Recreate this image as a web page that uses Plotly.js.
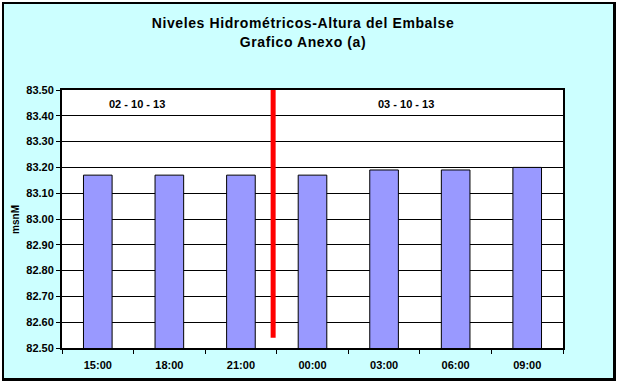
<!DOCTYPE html>
<html>
<head>
<meta charset="utf-8">
<script src="https://cdn.plot.ly/plotly-3.0.1.min.js"></script>
<style>
  html, body { margin: 0; padding: 0; background: #ffffff; }
  #frame {
    position: absolute; left: 2px; top: 2px;
    width: 609px; height: 374px;
    border-left: 2px solid #000; border-top: 2px solid #000;
    border-right: 3px solid #000; border-bottom: 3px solid #000;
    background: #CCFFFF;
  }
  #chart { width: 609px; height: 374px; }
  #chart .gtitle { letter-spacing: 0.6px; }
</style>
</head>
<body>
<div id="frame"><div id="chart"></div></div>
<script>
// ---- data ----
const categories = ["15:00", "18:00", "21:00", "00:00", "03:00", "06:00", "09:00"];
const levels = [83.17, 83.17, 83.17, 83.17, 83.19, 83.19, 83.20];
const yTickVals = [82.5, 82.6, 82.7, 82.8, 82.9, 83.0, 83.1, 83.2, 83.3, 83.4, 83.5];
const yTickText = ["82.50", "82.60", "82.70", "82.80", "82.90", "83.00", "83.10", "83.20", "83.30", "83.40", "83.50"];
const dateLabels = ["02 - 10 - 13", "03 - 10 - 13"];
const dateLabelX = [0.55, 4.31];
const dateLabelY = 83.445;
const dividerX = 2.45;
const dividerY = [82.54, 83.5];

const FONT = "Arial, 'Liberation Sans', sans-serif";

const traces = [{
  type: "bar",
  x: categories,
  y: levels,
  width: 0.4,
  marker: { color: "#9999FF", line: { color: "#000000", width: 1 } },
  hoverinfo: "x+y"
}];

const layout = {
  width: 609, height: 374,
  margin: { l: 58, r: 50, t: 86, b: 30, pad: 0 },
  paper_bgcolor: "#CCFFFF",
  plot_bgcolor: "#FFFFFF",
  showlegend: false,
  font: { family: FONT, color: "#000000" },
  title: {
    text: "<b>Niveles Hidrométricos-Altura del Embalse<br>Grafico Anexo (a)</b>",
    font: { family: FONT, size: 14, color: "#000000" },
    x: 0.491, xref: "container", xanchor: "center",
    y: 0.935, yref: "container", yanchor: "top"
  },
  xaxis: {
    type: "category",
    range: [-0.5, 6.5],
    tickson: "boundaries",
    ticks: "outside", ticklen: 4, tickwidth: 1, tickcolor: "#000",
    ticklabelstandoff: 6,
    showline: true, linecolor: "#000", linewidth: 2, mirror: true,
    showgrid: false,
    tickfont: { family: FONT, size: 11, color: "#000", weight: "bold" },
    fixedrange: true
  },
  yaxis: {
    range: [82.5, 83.5],
    tickvals: yTickVals, ticktext: yTickText,
    ticks: "outside", ticklen: 4, tickwidth: 1, tickcolor: "#000",
    showline: true, linecolor: "#000", linewidth: 2, mirror: true,
    showgrid: true, gridcolor: "#000", gridwidth: 1,
    zeroline: false,
    tickfont: { family: FONT, size: 11, color: "#000", weight: "bold" },
    fixedrange: true
  },
  shapes: [{
    type: "line", xref: "x", yref: "y",
    x0: dividerX, x1: dividerX, y0: dividerY[0], y1: dividerY[1],
    line: { color: "#FF0000", width: 5 }
  }],
  annotations: [
    {
      text: "<b>msnM</b>", textangle: -90,
      xref: "paper", yref: "paper", x: -0.094, y: 0.5,
      xanchor: "center", yanchor: "middle", showarrow: false,
      font: { family: FONT, size: 10, color: "#000" }
    }
  ].concat(dateLabels.map((t, i) => ({
    text: "<b>" + t + "</b>",
    xref: "x", yref: "y", x: dateLabelX[i], y: dateLabelY,
    xanchor: "center", yanchor: "middle", showarrow: false,
    font: { family: FONT, size: 11, color: "#000" }
  })))
};

Plotly.newPlot("chart", traces, layout, { displayModeBar: false, staticPlot: true });
</script>
</body>
</html>
